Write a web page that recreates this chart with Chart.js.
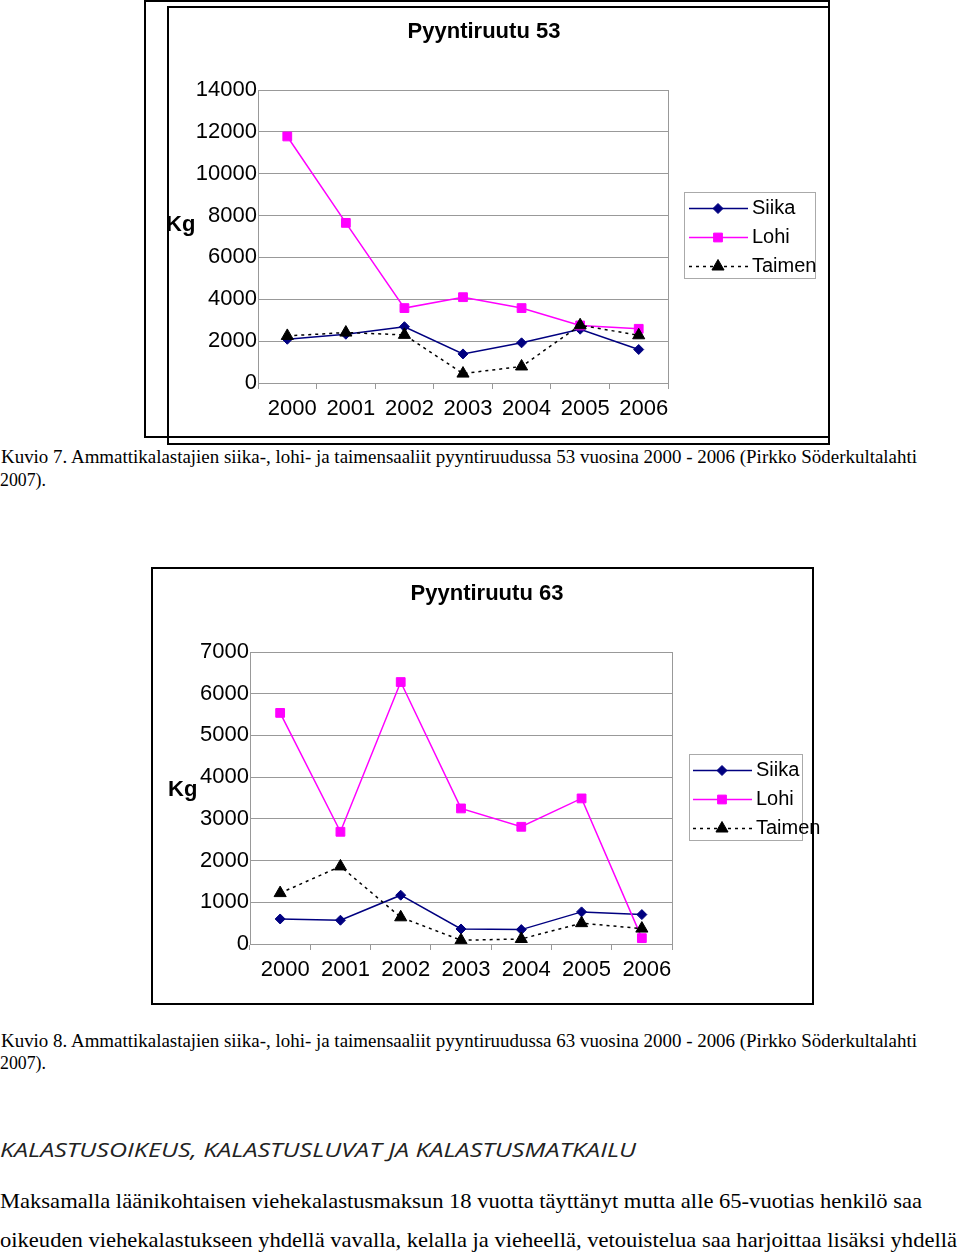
<!DOCTYPE html>
<html>
<head>
<meta charset="utf-8">
<script src="https://cdn.jsdelivr.net/npm/chart.js@4.4.1/dist/chart.umd.min.js"></script>
<style>
body { margin: 0; background: #fff; width: 960px; height: 1253px; position: relative; overflow: hidden; font-family: "Liberation Serif", "Times New Roman", serif; }
.frame { position: absolute; border: 2px solid #000; box-sizing: border-box; }
canvas { position: absolute; }
.line { position: absolute; left: 0; white-space: nowrap; line-height: 1; transform-origin: 0 50%; color: #000; }
.cap { font-size: 18px; }
.body { font-size: 22px; }
.head { font-family: "Open Sans", sans-serif; font-style: italic; font-size: 20px; color: #222; }
</style>
</head>
<body>
<div class="frame" style="left:144px;top:0px;width:686px;height:438px"></div>
<div class="frame" style="left:167px;top:6px;width:663px;height:439px"></div>
<canvas id="chart53" width="680" height="430" style="left:144px;top:9px"></canvas>

<span class="line cap" data-w="916" style="top:448px;left:1px">Kuvio 7. Ammattikalastajien siika-, lohi- ja taimensaaliit pyyntiruudussa 53 vuosina 2000 - 2006 (Pirkko Söderkultalahti</span>
<span class="line cap" data-w="46" style="top:471px">2007).</span>

<div class="frame" style="left:151px;top:567px;width:663px;height:438px"></div>
<canvas id="chart63" width="680" height="430" style="left:147px;top:571px"></canvas>

<span class="line cap" data-w="916" style="top:1032px;left:1px">Kuvio 8. Ammattikalastajien siika-, lohi- ja taimensaaliit pyyntiruudussa 63 vuosina 2000 - 2006 (Pirkko Söderkultalahti</span>
<span class="line cap" data-w="46" style="top:1054px">2007).</span>

<span class="line head" data-w="636" style="top:1140px">KALASTUSOIKEUS, KALASTUSLUVAT JA KALASTUSMATKAILU</span>
<span class="line body" data-w="922" style="top:1190px">Maksamalla läänikohtaisen viehekalastusmaksun 18 vuotta täyttänyt mutta alle 65-vuotias henkilö saa</span>
<span class="line body" data-w="957" style="top:1229px">oikeuden viehekalastukseen yhdellä vavalla, kelalla ja vieheellä, vetouistelua saa harjoittaa lisäksi yhdellä</span>

<script>
const years = ["2000", "2001", "2002", "2003", "2004", "2005", "2006"];

// Pyyntiruutu 53
const siika53 = [2090, 2330, 2690, 1390, 1920, 2570, 1600];
const lohi53 = [11780, 7650, 3580, 4100, 3580, 2750, 2590];
const taimen53 = [2250, 2410, 2300, 450, 790, 2760, 2280];

// Pyyntiruutu 63
const siika63 = [600, 570, 1170, 360, 345, 770, 705];
const lohi63 = [5540, 2690, 6280, 3250, 2810, 3490, 140];
const taimen63 = [1220, 1860, 640, 90, 120, 500, 370];

const sans = '"Liberation Sans", Arial, sans-serif';
const gridGray = '#999';

function marker(ctx, style, x, y, r) {
    ctx.beginPath();
    if (style === 'rect') {
        const s = r * Math.SQRT1_2;
        ctx.rect(x - s, y - s, 2 * s, 2 * s);
    } else if (style === 'rectRot') {
        ctx.moveTo(x - r, y); ctx.lineTo(x, y - r); ctx.lineTo(x + r, y); ctx.lineTo(x, y + r);
        ctx.closePath();
    } else {
        ctx.moveTo(x, y - r); ctx.lineTo(x + r * 0.866, y + r / 2); ctx.lineTo(x - r * 0.866, y + r / 2);
        ctx.closePath();
    }
    ctx.fill();
    ctx.stroke();
}

// "Kg" label and the Excel-style legend (line with marker)
const excelBits = {
    id: 'excelBits',
    afterDraw(chart, args, opts) {
        const {ctx, chartArea: a} = chart;
        ctx.save();
        ctx.fillStyle = '#000';
        ctx.textBaseline = 'middle';
        ctx.textAlign = 'left';
        ctx.font = 'bold 22px ' + sans;
        ctx.fillText(opts.unit, a.left + opts.unitX, a.top + opts.unitY);

        ctx.strokeStyle = '#aaa';
        ctx.lineWidth = 1;
        ctx.strokeRect(Math.round(a.right + opts.legendX) + 0.5, Math.round(a.top + 102) + 0.5, opts.legendW, 86);

        ctx.font = '20px ' + sans;
        chart.data.datasets.forEach((ds, i) => {
            const y = Math.round(a.top + 118 + i * 28.8) + 0.5;
            ctx.strokeStyle = ds.borderColor;
            ctx.lineWidth = ds.borderWidth;
            ctx.setLineDash(ds.borderDash || []);
            ctx.beginPath();
            ctx.moveTo(a.right + 21, y);
            ctx.lineTo(a.right + 80, y);
            ctx.stroke();
            ctx.setLineDash([]);
            ctx.lineWidth = 1;
            ctx.fillStyle = ds.pointBackgroundColor;
            marker(ctx, ds.pointStyle, a.right + 50, y, ds.pointRadius);
            ctx.fillStyle = '#000';
            ctx.fillText(ds.label, a.right + 84, y);
        });
        ctx.restore();
    }
};

function makeChart(id, title, siika, lohi, taimen, yMax, yStep, bits, box) {
    new Chart(document.getElementById(id), {
        type: 'line',
        data: {
            labels: years,
            datasets: [{
                label: 'Siika',
                data: siika,
                borderColor: '#000080',
                pointBackgroundColor: '#000080',
                borderWidth: 1.5,
                pointStyle: 'rectRot',
                pointRadius: 5,
                pointBorderWidth: 1,
                order: 3
            }, {
                label: 'Lohi',
                data: lohi,
                borderColor: '#ff00ff',
                pointBackgroundColor: '#ff00ff',
                borderWidth: 1.5,
                pointStyle: 'rect',
                pointRadius: 6.2,
                pointBorderWidth: 1,
                order: 2
            }, {
                label: 'Taimen',
                data: taimen,
                borderColor: '#000',
                pointBackgroundColor: '#000',
                borderWidth: 1.5,
                borderDash: [3, 4],
                pointStyle: 'triangle',
                pointRadius: 7,
                pointBorderWidth: 1,
                order: 1
            }]
        },
        plugins: [excelBits],
        options: {
            responsive: false,
            animation: false,
            layout: {padding: 0},
            plugins: {
                legend: {display: false},
                tooltip: {enabled: false},
                title: {
                    display: true,
                    text: title,
                    color: '#000',
                    font: {family: sans, size: 22, weight: 'bold'},
                    padding: {top: 10, bottom: 44.6}
                },
                excelBits: bits
            },
            scales: {
                x: {
                    offset: true,
                    grid: {offset: true, drawOnChartArea: false, tickLength: 6, color: gridGray},
                    border: {color: gridGray},
                    ticks: {color: '#000', font: {family: sans, size: 22}, padding: 7, labelOffset: 5, maxRotation: 0, autoSkip: false},
                    afterFit(s) { s.height = box.xHeight; }
                },
                y: {
                    min: 0,
                    max: yMax,
                    grid: {color: gridGray, drawTicks: false},
                    border: {color: gridGray},
                    ticks: {stepSize: yStep, color: '#000', font: {family: sans, size: 22}, padding: 1, callback: v => String(v)},
                    afterFit(s) { s.width = box.yWidth; }
                },
                y2: {
                    position: 'right',
                    grid: {display: false},
                    border: {display: true, color: gridGray},
                    ticks: {display: false},
                    afterFit(s) { s.width = box.y2Width; }
                }
            }
        }
    });
}

makeChart('chart53', 'Pyyntiruutu 53', siika53, lohi53, taimen53, 14000, 2000,
    {unit: 'Kg', unitX: -92, unitY: 135, legendX: 16, legendW: 131},
    {yWidth: 114, y2Width: 156, xHeight: 56});

makeChart('chart63', 'Pyyntiruutu 63', siika63, lohi63, taimen63, 7000, 1000,
    {unit: 'Kg', unitX: -82, unitY: 138, legendX: 17, legendW: 113},
    {yWidth: 103, y2Width: 155, xHeight: 57});

// squeeze the scanned text lines to their widths
document.querySelectorAll('.line').forEach(el => {
    const w = +el.dataset.w;
    const r = el.getBoundingClientRect().width;
    el.style.transform = 'scaleX(' + (w / r) + ')';
});
</script>
</body>
</html>
